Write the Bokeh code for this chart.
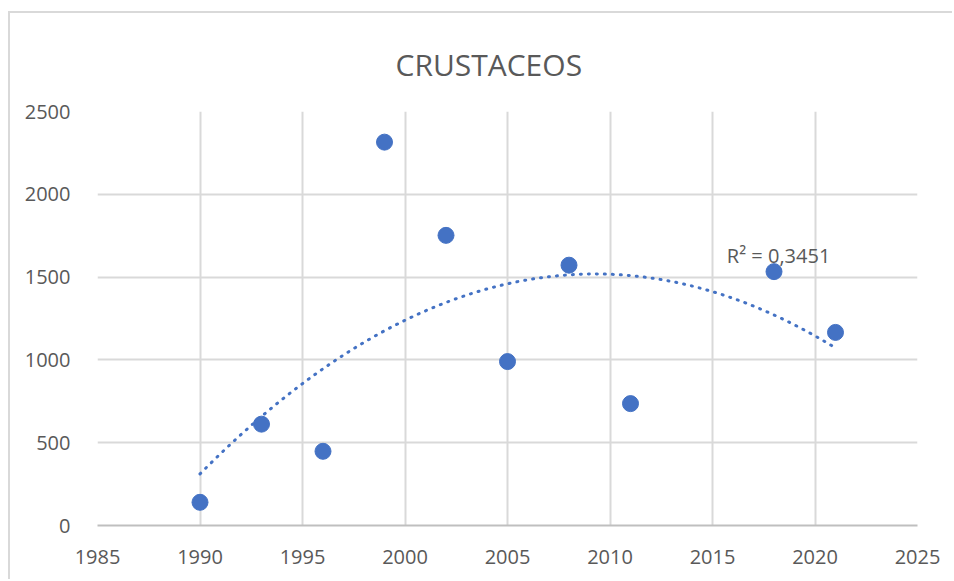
import numpy as np
from bokeh.plotting import figure
from bokeh.models import FixedTicker, Range1d, ColumnDataSource
from bokeh.core.properties import value
from bokeh.embed import file_html
from bokeh.resources import INLINE

title_text = "CRUSTACEOS"
years = [1990, 1993, 1996, 1999, 2002, 2005, 2008, 2011, 2018, 2021]
values = [140, 612, 448, 2315, 1752, 990, 1572, 736, 1533, 1166]
x_ticks = [1985, 1990, 1995, 2000, 2005, 2010, 2015, 2020, 2025]
y_ticks = [0, 500, 1000, 1500, 2000, 2500]
r2_text = "R² = 0,3451"

FONT = "Open Sans"
TXT = "#595959"
GRID = "#d9d9d9"
BLUE = "#4472C4"

p = figure(width=944, height=568, output_backend="svg", toolbar_location=None,
           x_range=Range1d(1985, 2025), y_range=Range1d(0, 2500),
           min_border_left=87, min_border_right=37, min_border_top=98, min_border_bottom=56)
p.styles = {"border-top": "2px solid #d9d9d9", "border-left": "2px solid #d9d9d9",
            "margin-top": "11px", "margin-left": "8px"}
p.outline_line_color = None
p.background_fill_color = "white"
p.border_fill_color = "white"

p.title.text = title_text
p.title.align = "left"
p.title.text_font = FONT
p.title.text_font_size = "30px"
p.title.text_font_style = "normal"
p.title.text_color = TXT
p.title.standoff = 54
p.title.offset = 298

p.xaxis.ticker = FixedTicker(ticks=x_ticks)
p.yaxis.ticker = FixedTicker(ticks=y_ticks)
for ax in (p.xaxis, p.yaxis):
    ax.major_tick_line_color = None
    ax.minor_tick_line_color = None
    ax.major_label_text_font = FONT
    ax.major_label_text_font_size = "20px"
    ax.major_label_text_color = TXT
p.yaxis.axis_line_color = None
p.xaxis.axis_line_color = "#bfbfbf"
p.xaxis.axis_line_width = 2
p.xaxis.major_label_standoff = 18
p.yaxis.major_label_standoff = 21

p.xgrid.ticker = FixedTicker(ticks=x_ticks)
p.ygrid.ticker = FixedTicker(ticks=y_ticks)
for g in (p.xgrid, p.ygrid):
    g.grid_line_color = GRID
    g.grid_line_width = 2

# polynomial (order 2) trendline fitted to the data
coef = np.polyfit(years, values, 2)
tx = np.linspace(min(years), max(years), 200)
ty = np.polyval(coef, tx)
p.line(tx, ty, line_color=BLUE, line_width=3, line_dash="1 7", line_cap="round")

src = ColumnDataSource(dict(x=years, y=values))
p.scatter("x", "y", source=src, size=16, fill_color=BLUE, line_color=BLUE)

p.text(x=[2015.7], y=[1630], text=[r2_text], text_font=value(FONT), text_font_size="20px",
       text_color=TXT, text_baseline="middle", text_align="left")

open("out.html", "w").write(file_html(p, INLINE))
